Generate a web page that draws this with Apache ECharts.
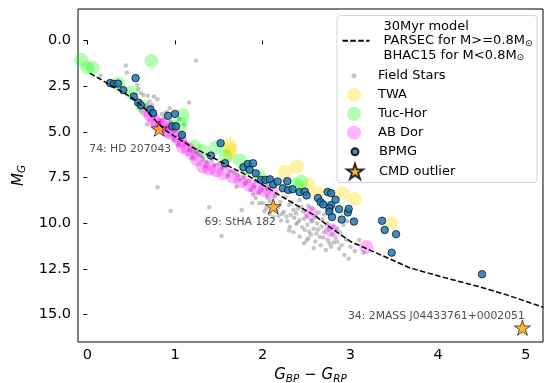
<!DOCTYPE html>
<html>
<head>
<meta charset="utf-8">
<script src="https://cdn.jsdelivr.net/npm/echarts@6/dist/echarts.min.js"></script>
<style>
  html, body { margin: 0; padding: 0; background: #fff; }
  #chart { width: 550px; height: 383px; }
</style>
</head>
<body>
<div id="chart"></div>
<script>
// 30 Myr isochrone (colour, abs. G mag)
const modelLine = [
  [0.03, 1.8], [0.25, 2.4], [0.5, 3.1], [0.65, 3.7], [0.8, 4.5], [0.9, 4.95],
  [1.03, 5.35], [1.2, 5.85], [1.39, 6.3], [1.6, 6.85], [1.85, 7.45], [2.0, 7.9],
  [2.2, 8.5], [2.4, 9.05], [2.6, 9.6], [2.76, 10.2], [3.0, 11.0], [3.22, 11.47],
  [3.4, 11.85], [3.68, 12.45], [4.09, 13.0], [4.47, 13.48], [4.8, 13.95], [5.2, 14.6]
];

const fieldStars = [
  [0.15, 1.93], [0.44, 1.37], [0.45, 1.75], [1.24, 1.1], [0.57, 2.43], [0.58, 2.66],
  [0.61, 2.88], [0.64, 2.98], [0.69, 3.02], [0.76, 3.07], [0.8, 3.22], [0.71, 3.34],
  [0.74, 3.55], [0.66, 3.62], [1.16, 3.4], [0.94, 3.71], [0.9, 3.92], [0.85, 4.02],
  [0.87, 4.25], [0.83, 4.38], [0.68, 4.6], [0.95, 4.45], [1.05, 4.3], [1.1, 4.6],
  [0.98, 5.45], [1.04, 5.72], [1.12, 5.6], [1.17, 6.02], [1.24, 6.12], [1.29, 6.3],
  [1.32, 6.46], [1.36, 6.62], [1.42, 6.55], [1.45, 6.82], [1.5, 6.74], [1.54, 6.96],
  [1.59, 6.9], [1.63, 7.12], [1.67, 7.22], [1.71, 7.36], [1.74, 7.63], [1.78, 7.5],
  [1.8, 7.82], [1.84, 7.7], [1.86, 8.18], [1.89, 8.45], [1.9, 8.0], [1.95, 8.32],
  [1.99, 8.2], [1.7, 8.02], [1.76, 9.28], [1.53, 10.7], [1.39, 9.13], [0.95, 9.33],
  [0.8, 8.03], [1.2, 6.4], [1.35, 6.9], [1.6, 7.4],
  [2.0, 8.9], [2.04, 9.18], [2.05, 8.6], [2.08, 8.78], [2.11, 9.02], [2.14, 8.5],
  [2.18, 9.1], [2.2, 8.82], [2.24, 9.38], [2.27, 9.64], [2.22, 9.5], [2.3, 9.0],
  [2.31, 10.2], [2.33, 8.86], [2.35, 9.26], [2.36, 9.7], [2.38, 9.45], [2.4, 9.96],
  [2.42, 9.82], [2.42, 8.73], [2.44, 9.1], [2.46, 9.35], [2.48, 10.37], [2.5, 9.6],
  [2.51, 10.1], [2.52, 10.83], [2.53, 10.47], [2.55, 9.9], [2.56, 9.2], [2.58, 10.3],
  [2.6, 9.62], [2.61, 10.56], [2.62, 10.02], [2.64, 9.42], [2.65, 10.75], [2.67, 10.2],
  [2.68, 9.8], [2.7, 10.5], [2.72, 11.47], [2.73, 10.02], [2.74, 10.9], [2.76, 11.1],
  [2.78, 11.29], [2.79, 10.62], [2.8, 10.2], [2.83, 10.8], [2.85, 11.02], [2.88, 10.5],
  [2.9, 11.2], [2.93, 11.74], [2.95, 10.9], [3.0, 11.3], [3.05, 11.52], [2.42, 10.74],
  [2.35, 10.5], [2.3, 10.4], [2.28, 9.9], [2.18, 9.6], [2.15, 9.32], [2.08, 9.5],
  [1.96, 8.91], [1.92, 8.62], [2.6, 11.0], [2.45, 10.22], [2.55, 10.62], [2.66, 11.2],
  [2.7, 9.52], [2.85, 10.3], [2.92, 10.1], [3.1, 10.92], [2.96, 9.9], [2.26, 8.6],
  [2.32, 9.55], [2.4, 9.2], [2.47, 9.75], [2.52, 9.05], [2.57, 9.85], [2.63, 10.35],
  [2.69, 10.78], [2.75, 10.35], [2.81, 11.05], [2.87, 11.4], [2.5, 10.95], [2.38, 10.05],
  [2.21, 9.85], [2.12, 9.68], [2.02, 9.35], [1.88, 8.9], [2.25, 7.65], [2.05, 8.1],
  [2.58, 11.35], [2.47, 11.1], [3.15, 11.6], [2.98, 11.95]
];

const twa = [
  [1.62, 5.7], [1.63, 5.95], [1.62, 6.2], [2.25, 7.18], [2.39, 6.9], [2.52, 7.9],
  [2.63, 8.36], [2.91, 8.36], [3.05, 8.68], [3.47, 10.02]
];

const tucHor = [
  [-0.07, 1.06], [0.0, 1.5], [0.06, 1.5], [0.73, 1.12], [0.35, 2.35], [0.5, 2.85],
  [0.63, 3.6], [0.98, 4.7], [1.09, 4.1], [1.07, 4.62], [1.22, 5.8], [1.32, 6.05],
  [1.47, 5.85], [1.58, 6.35], [1.74, 6.55], [1.81, 7.0], [1.96, 7.45], [2.08, 7.8],
  [2.38, 7.9], [2.44, 7.72]
];

const abDor = [
  [0.67, 3.8], [0.72, 4.1], [0.76, 4.35], [0.8, 4.6], [0.85, 4.7], [0.88, 4.62],
  [0.92, 4.95], [0.95, 5.07], [1.03, 5.26], [1.06, 5.5], [1.09, 5.8], [1.15, 5.95],
  [1.2, 6.2], [1.25, 6.5], [1.32, 6.9], [1.39, 7.0], [1.47, 7.1], [1.55, 7.27],
  [1.66, 7.45], [1.75, 7.7], [1.85, 7.9], [1.93, 8.1], [2.02, 8.18], [2.1, 8.3],
  [2.55, 9.46], [2.78, 10.37], [3.18, 11.3]
];

const bpmg = [
  [0.26, 2.33], [0.3, 2.39], [0.35, 2.36], [0.41, 2.72], [0.55, 2.06], [0.53, 3.07],
  [0.58, 3.4], [0.61, 3.55], [0.72, 3.78], [0.75, 3.98], [0.92, 4.12], [1.0, 4.02],
  [0.97, 4.7], [1.01, 4.7], [1.08, 5.17], [1.52, 5.62], [1.41, 6.3], [1.57, 6.72],
  [1.78, 6.94], [1.83, 6.76], [1.89, 6.72], [1.85, 7.08], [1.92, 7.27], [1.98, 7.63],
  [2.03, 7.63], [2.08, 7.6], [2.12, 7.88], [2.17, 7.72], [2.23, 8.09], [2.29, 8.18],
  [2.34, 8.14], [2.28, 7.7], [2.42, 8.3], [2.48, 8.27], [2.5, 8.48], [2.74, 8.29],
  [2.78, 8.36], [2.63, 8.62], [2.66, 8.85], [2.69, 8.97], [2.78, 9.0], [2.83, 8.71],
  [2.76, 9.18], [2.76, 9.37], [2.87, 9.23], [2.79, 9.66], [2.9, 9.8], [2.97, 9.41],
  [2.98, 9.22], [3.04, 9.91], [3.36, 9.87], [3.39, 10.37], [3.52, 10.6], [3.47, 11.61],
  [4.5, 12.79]
];

const outliers = [[0.82, 4.83], [2.12, 9.08], [4.96, 15.72]];
const outlierNames = ['74: HD 207043', '69: StHA 182', '34: 2MASS J04433761+0002051'];

const xTicks = [0, 1, 2, 3, 4, 5];
const yTicks = [0, 2.5, 5, 7.5, 10, 12.5, 15];

const FONT = 'DejaVu Sans';
const STAR = 'path://M100,0 L122.45,69.1 L195.1,69.1 L136.3,111.8 L158.8,180.9 L100,138.2 L41.2,180.9 L63.7,111.8 L4.9,69.1 L77.55,69.1 Z';
const MODEL = '30Myr model';
const labelOffsets = [[-29, 20], [-33, 16], [-86, -12]];

const chart = echarts.init(document.getElementById('chart'));

// legend marker centre x = 354, text starts at 378
const legendText = { fontFamily: FONT, fontSize: 13, color: '#000', lineHeight: 16 };
function legendRow(name, top, size, icon) {
  return {
    data: [name], orient: 'vertical', left: 354 - size / 2, top: top - 8,
    itemWidth: size, itemHeight: size, padding: 0, selectedMode: false,
    icon: icon, z: 5,
    textStyle: Object.assign({}, legendText, { padding: [0, 0, 0, 19 - size / 2] })
  };
}

const option = {
  animation: false,
  backgroundColor: '#fff',
  grid: { left: 78, right: 7, top: 9, bottom: 41, show: true, borderColor: '#000', borderWidth: 1, outerBoundsMode: 'none' },
  xAxis: {
    type: 'value', min: -0.106, max: 5.195,
    name: '{i|G}{s|BP}{n| − }{i|G}{s|RP}',
    nameLocation: 'middle', nameGap: 23,
    nameTextStyle: {
      fontFamily: FONT, color: '#000', fontSize: 15,
      rich: {
        i: { fontFamily: FONT, fontStyle: 'italic', fontSize: 15, color: '#000' },
        n: { fontFamily: FONT, fontSize: 15, color: '#000' },
        s: { fontFamily: FONT, fontStyle: 'italic', fontSize: 10.5, color: '#000', padding: [7, 0, 0, 0] }
      }
    },
    axisLine: { show: false },
    axisTick: { show: true, length: 4, lineStyle: { color: '#000' }, customValues: xTicks },
    axisLabel: { fontFamily: FONT, fontSize: 14.5, color: '#000', margin: 6, customValues: xTicks },
    splitLine: { show: false }
  },
  yAxis: {
    type: 'value', inverse: true, min: -1.72, max: 16.5,
    name: '{i|M}{s|G}',
    nameLocation: 'middle', nameGap: 47, nameRotate: 90,
    nameTextStyle: {
      fontFamily: FONT, color: '#000', fontSize: 15,
      rich: {
        i: { fontFamily: FONT, fontStyle: 'italic', fontSize: 15, color: '#000' },
        s: { fontFamily: FONT, fontStyle: 'italic', fontSize: 10.5, color: '#000', padding: [7, 0, 0, 0] }
      }
    },
    axisLine: { show: false },
    axisTick: { show: true, length: 4, lineStyle: { color: '#000' }, customValues: yTicks },
    axisLabel: {
      fontFamily: FONT, fontSize: 14.5, color: '#000', margin: 7, customValues: yTicks,
      formatter: v => v.toFixed(1)
    },
    splitLine: { show: false }
  },
  graphic: [{
    type: 'rect', z: 3,
    shape: { x: 337, y: 15.5, width: 200, height: 167, r: 3 },
    style: { fill: 'rgba(255,255,255,0.85)', stroke: '#d5d5d5', lineWidth: 1 }
  }],
  legend: [
    {
      data: [{ name: MODEL, itemStyle: { opacity: 0 } }],
      orient: 'vertical', left: 341.5, top: 19, itemWidth: 27, itemHeight: 14,
      padding: 0, selectedMode: false, z: 5,
      textStyle: Object.assign({}, legendText, {
        lineHeight: 14.5, padding: [0, 0, 0, 9],
        rich: { s: { fontFamily: FONT, fontSize: 9, color: '#000', padding: [5, 0, 0, 0] } }
      }),
      formatter: () => '30Myr model\nPARSEC for M>=0.8M{s|⊙}\nBHAC15 for M<0.8M{s|⊙}'
    },
    legendRow('Field Stars', 75.7, 5, 'circle'),
    legendRow('TWA', 94.7, 14, 'circle'),
    legendRow('Tuc-Hor', 113.7, 14, 'circle'),
    legendRow('AB Dor', 132.7, 14, 'circle'),
    legendRow('BPMG', 151.7, 7, 'circle'),
    legendRow('CMD outlier', 170.7, 16, STAR)
  ],
  series: [
    {
      name: 'Field Stars', type: 'scatter', data: fieldStars, symbolSize: 4.5,
      itemStyle: { color: '#808080', opacity: 0.45 }
    },
    {
      name: 'TWA', type: 'scatter', data: twa, symbolSize: 14,
      itemStyle: { color: '#FFD700', opacity: 0.35 }
    },
    {
      name: 'Tuc-Hor', type: 'scatter', data: tucHor, symbolSize: 14,
      itemStyle: { color: '#00FF00', opacity: 0.3 }
    },
    {
      name: 'AB Dor', type: 'scatter', data: abDor, symbolSize: 14,
      itemStyle: { color: '#FF00FF', opacity: 0.3 }
    },
    {
      name: MODEL, type: 'line', data: modelLine, showSymbol: false, symbol: 'none',
      lineStyle: { color: '#000', width: 1.5, type: [5.5, 2.4] }
    },
    {
      name: 'BPMG', type: 'scatter', data: bpmg, symbolSize: 7.5,
      itemStyle: { color: '#1f77b4', opacity: 0.85, borderColor: '#000', borderWidth: 0.8 }
    },
    {
      name: 'CMD outlier', type: 'scatter', symbol: STAR, symbolSize: 16, symbolKeepAspect: true,
      itemStyle: { color: '#FFA500', borderColor: '#000', borderWidth: 0.8 },
      label: { show: true, position: 'inside', fontFamily: FONT, fontSize: 10.8, color: '#222' },
      data: outliers.map((p, i) => ({
        value: p,
        label: { formatter: outlierNames[i], offset: labelOffsets[i] }
      }))
    }
  ]
};

chart.setOption(option);
</script>
</body>
</html>
